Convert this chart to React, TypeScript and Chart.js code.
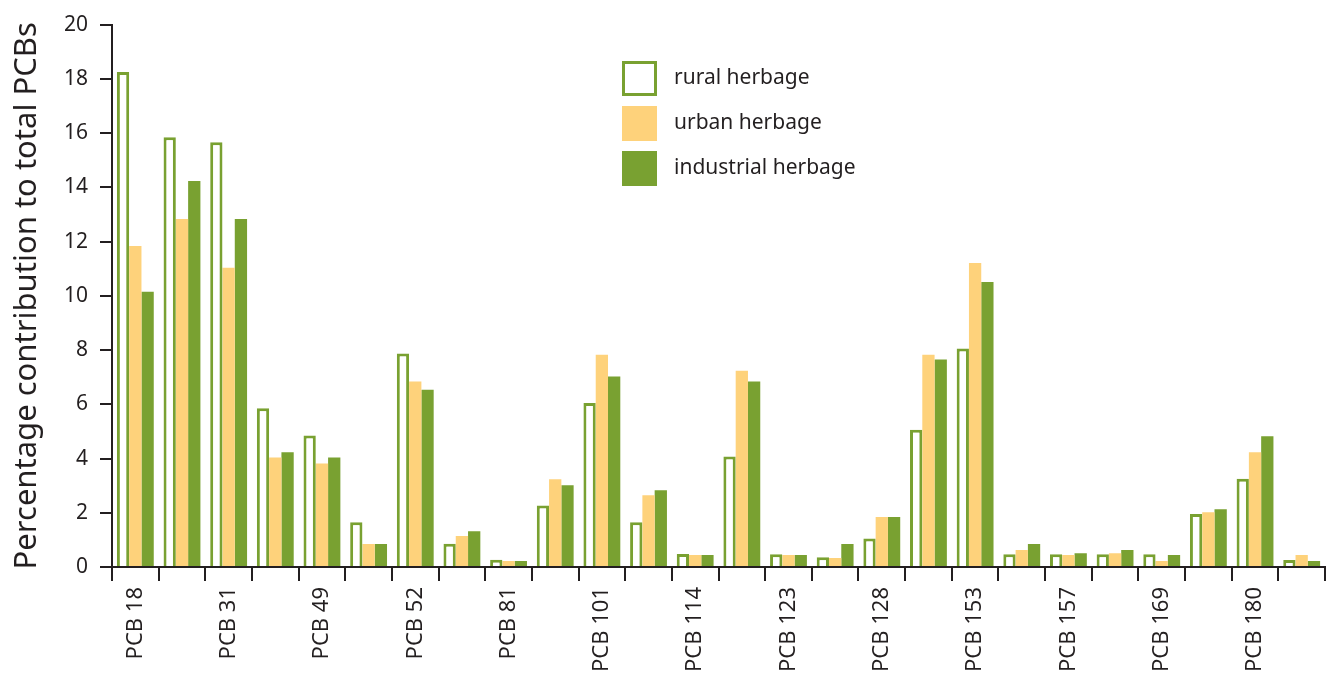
import React, { useEffect, useRef } from "react";
import { Chart, registerables } from "chart.js";

Chart.register(...registerables);

const categories = [
  "PCB 18", "", "PCB 31", "", "PCB 49", "", "PCB 52", "", "PCB 81", "",
  "PCB 101", "", "PCB 114", "", "PCB 123", "", "PCB 128", "", "PCB 153", "",
  "PCB 157", "", "PCB 169", "", "PCB 180", "",
];

const seriesNames = ["rural herbage", "urban herbage", "industrial herbage"];

const rural = [
  18.25, 15.85, 15.66, 5.85, 4.85, 1.65, 7.87, 0.86, 0.27, 2.27, 6.05, 1.65, 0.48,
  4.07, 0.47, 0.36, 1.05, 5.06, 8.06, 0.47, 0.47, 0.47, 0.47, 1.95, 3.25, 0.26,
];
const urban = [
  11.84, 12.83, 11.03, 4.04, 3.82, 0.85, 6.84, 1.14, 0.22, 3.24, 7.83, 2.65, 0.44,
  7.24, 0.44, 0.33, 1.84, 7.83, 11.21, 0.63, 0.44, 0.51, 0.22, 2.02, 4.23, 0.44,
];
const industrial = [
  10.15, 14.23, 12.83, 4.23, 4.04, 0.85, 6.54, 1.32, 0.22, 3.01, 7.02, 2.83, 0.44,
  6.84, 0.44, 0.85, 1.84, 7.65, 10.51, 0.85, 0.51, 0.63, 0.44, 2.13, 4.82, 0.22,
];

const yTicks = [0, 2, 4, 6, 8, 10, 12, 14, 16, 18, 20];

const FONT = "'Noto Sans', sans-serif";
const INK = "#231f20";
const GREEN = "#79a131";
const YELLOW = "#fed27b";

const boxLegend = {
  id: "boxLegend",
  afterDraw(chart: any) {
    const ctx = chart.ctx;
    const x0 = 622;
    const y0 = 61;
    const size = 35;
    const step = 45;
    ctx.save();
    chart.data.datasets.forEach((ds: any, i: number) => {
      const y = y0 + i * step;
      if (ds.borderWidth && ds.backgroundColor === "#ffffff") {
        ctx.fillStyle = "#ffffff";
        ctx.fillRect(x0, y, size, size);
        ctx.strokeStyle = ds.borderColor;
        ctx.lineWidth = 3;
        ctx.strokeRect(x0 + 1.5, y + 1.5, size - 3, size - 3);
      } else {
        ctx.fillStyle = ds.backgroundColor;
        ctx.fillRect(x0, y, size, size);
      }
      ctx.fillStyle = INK;
      ctx.font = `21px ${FONT}`;
      ctx.textBaseline = "middle";
      ctx.textAlign = "left";
      ctx.fillText(ds.label, 674, y + size / 2);
    });
    ctx.restore();
  },
};

export default function App() {
  const ref = useRef<HTMLCanvasElement | null>(null);
  useEffect(() => {
    if (!ref.current) return;
    const chart = new Chart(ref.current, {
      type: "bar",
      data: {
        labels: categories,
        datasets: [
          {
            label: seriesNames[0],
            data: rural,
            backgroundColor: "#ffffff",
            borderColor: GREEN,
            borderWidth: 3,
          },
          { label: seriesNames[1], data: urban, backgroundColor: YELLOW, borderWidth: 0 },
          { label: seriesNames[2], data: industrial, backgroundColor: GREEN, borderWidth: 0 },
        ],
      },
      options: {
        responsive: true,
        maintainAspectRatio: false,
        animation: false,
        datasets: { bar: { categoryPercentage: 0.79, barPercentage: 1.0 } },
        layout: { padding: { top: 22, right: 11, left: 0, bottom: 0 } },
        plugins: { legend: { display: false }, tooltip: { enabled: false } },
        scales: {
          x: {
            ticks: {
              autoSkip: false,
              maxRotation: 90,
              minRotation: 90,
              color: INK,
              font: { family: FONT, size: 22 },
              padding: 6,
            },
            grid: {
              offset: true,
              drawOnChartArea: false,
              drawTicks: true,
              tickLength: 14,
              tickColor: INK,
              lineWidth: 2,
            },
            border: { display: true, color: INK, width: 2 },
            afterFit: (s: any) => {
              s.height = 106;
            },
          },
          y: {
            min: 0,
            max: 20,
            afterBuildTicks: (s: any) => {
              s.ticks = yTicks.map((v) => ({ value: v }));
            },
            ticks: {
              color: INK,
              font: { family: FONT, size: 21 },
              padding: 12,
            },
            grid: {
              drawOnChartArea: false,
              drawTicks: true,
              tickLength: 12,
              tickColor: INK,
              lineWidth: 2,
            },
            border: { display: true, color: INK, width: 2 },
            title: {
              display: true,
              text: "Percentage contribution to total PCBs",
              color: INK,
              font: { family: FONT, size: 31 },
              padding: 9,
            },
            afterFit: (s: any) => {
              s.width = 112;
            },
          },
        },
      },
      plugins: [boxLegend],
    } as any);
    return () => chart.destroy();
  }, []);
  return (
    <div style={{ position: "fixed", left: 0, top: 0, width: 1336, height: 673, background: "#fff" }}>
      <canvas ref={ref} />
    </div>
  );
}
